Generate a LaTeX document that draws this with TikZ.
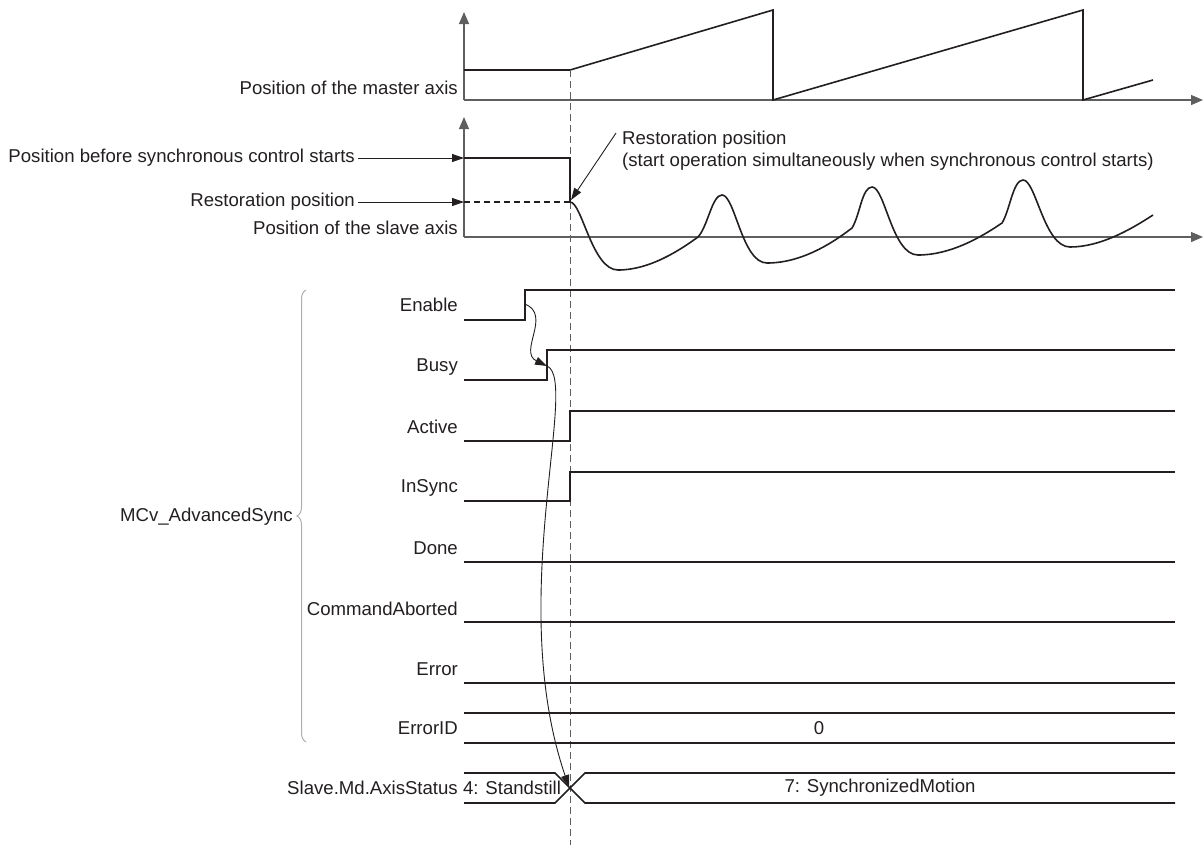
\documentclass[tikz,border=0pt]{standalone}
\usepackage{fontspec}
\setmainfont{Liberation Sans}
\usetikzlibrary{arrows.meta,decorations.pathreplacing}
\definecolor{inkgray}{RGB}{35,31,32}
\definecolor{axisgray}{RGB}{95,95,95}
\definecolor{bracegray}{RGB}{175,175,175}

\begin{document}
\begin{tikzpicture}[x=1pt, y=-1pt,
    every node/.style={font=\fontsize{18.6}{22}\selectfont, text=inkgray},
    lbl/.style={anchor=east, inner sep=0pt},
    sig/.style={line width=1.6pt, draw=inkgray},
    axis/.style={line width=1.3pt, draw=axisgray, -{Triangle[length=12pt,width=10pt]}},
    arr/.style={line width=0.9pt, draw=inkgray, -{Triangle[length=12pt,width=8pt]}},
    sync/.style={draw=axisgray, line width=1pt, dash pattern=on 7pt off 4pt}
  ]
  \useasboundingbox (0,0) rectangle (1204,847);

  % master axis
  \coordinate (mo) at (464,100);
  \coordinate (mtop) at (464,12);
  \coordinate (mend) at (1203,100);
  \draw[axis] (mo) -- (mtop);
  \draw[axis] (mo) -- (mend);
  \node[lbl] (lmaster) at (458,88) {Position of the master axis};
  \draw[sig] (464,70) -- (570,70) -- (773,10) -- (773,100) -- (1083,10) -- (1083,100) -- (1153,80);

  % start of synchronous control
  \draw[sync] (570,70) -- (570,845);

  % slave axis
  \coordinate (so) at (464,237);
  \coordinate (stop) at (464,117);
  \coordinate (send) at (1203,237);
  \draw[axis] (so) -- (stop);
  \draw[axis] (so) -- (send);
  \coordinate (pbefore) at (464,158);
  \coordinate (prest) at (464,202);
  \node[lbl] (lbefore) at (355,158) {Position before synchronous control starts};
  \node[lbl] (lrest) at (355,202) {Restoration position};
  \node[lbl] (lslave) at (458,228) {Position of the slave axis};
  \draw[arr] ([xshift=3pt]lbefore.east) -- (pbefore);
  \draw[arr] ([xshift=3pt]lrest.east) -- (prest);
  \draw[sig] (pbefore) -- (570,158) -- (570,202);
  \draw[sig, dash pattern=on 6pt off 4pt] (prest) -- (570,202);
  \draw[sig] (570,202) .. controls (582,202) and (592,270) .. (618,270)
    .. controls (650,270) and (680,250) .. (698,237)
    .. controls (708,226) and (712,195) .. (722,195)
    .. controls (735,195) and (742,263) .. (767,263)
    .. controls (800,263) and (830,245) .. (852,228)
    .. controls (860,215) and (862,187) .. (872,187)
    .. controls (885,187) and (892,255) .. (918,255)
    .. controls (950,255) and (980,238) .. (1002,223)
    .. controls (1010,210) and (1013,180) .. (1023,180)
    .. controls (1036,180) and (1044,247) .. (1070,247)
    .. controls (1100,247) and (1130,230) .. (1153,215);
  \node[anchor=north west, align=left, inner sep=0pt] (restnote) at (622,131)
    {Restoration position\\(start operation simultaneously when synchronous control starts)};
  \coordinate (restpt) at (571,200);
  \draw[arr] ([xshift=-6pt,yshift=-2pt]restnote.north west) -- (restpt);

  % MCv_AdvancedSync outputs
  \node[lbl] (lenable) at (458,305) {Enable};
  \node[lbl] (lbusy) at (458,367) {Busy};
  \node[lbl] (lactive) at (458,427) {Active};
  \node[lbl] (linsync) at (458,488) {InSync};
  \node[lbl] (ldone) at (458,548) {Done};
  \node[lbl] (labort) at (458,609) {CommandAborted};
  \node[lbl] (lerror) at (458,669) {Error};
  \node[lbl] (lerrid) at (458,728) {ErrorID};
  \node[lbl] (lstatus) at (458,788) {Slave.Md.AxisStatus};
  \node[lbl] (lmcv) at (293,517) {MCv\_AdvancedSync};
  \draw[bracegray, line width=1pt, decorate, decoration={brace, amplitude=9pt}] (306,742) -- (306,290);

  \draw[sig] (464,320) -- (525,320) -- (525,290) -- (1175,290);
  \draw[sig] (464,380) -- (547,380) -- (547,350) -- (1175,350);
  \draw[sig] (464,441) -- (570,441) -- (570,411) -- (1175,411);
  \draw[sig] (464,501) -- (570,501) -- (570,472) -- (1175,472);
  \foreach \y in {562,622,683,713,743}
    \draw[sig] (464,\y) -- (1175,\y);
  \node (errval) at (819,728) {0};

  % axis status
  \draw[sig] (464,773) -- (555,773) -- (585,803) -- (1175,803);
  \draw[sig] (464,803) -- (555,803) -- (585,773) -- (1175,773);
  \node (standstill) at (512,788) {4: Standstill};
  \node (syncmotion) at (880,788) {7: SynchronizedMotion};

  % causal arrows
  \coordinate (enrise) at (525,304);
  \coordinate (busyrise) at (547,366);
  \coordinate (statx) at (569,787);
  \draw[arr] (enrise) .. controls (552,315) and (518,352) .. (busyrise);
  \draw[arr] (busyrise) .. controls (580,380) and (505,600) .. (statx);
\end{tikzpicture}
\end{document}
